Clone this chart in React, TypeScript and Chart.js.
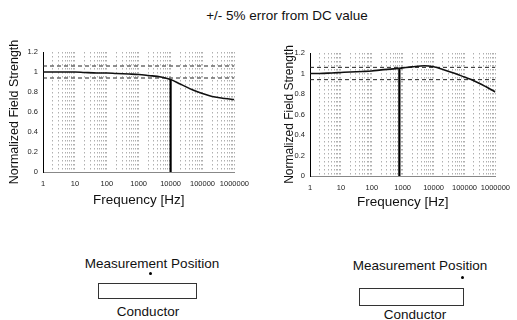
import React, { useEffect, useRef } from 'react';
import { Chart, registerables } from 'chart.js';

Chart.register(...registerables);

// ---- data ----
const frequencies = [1, 2, 5, 10, 20, 50, 100, 200, 500, 1000, 2000, 5000, 10000, 20000, 50000, 100000, 200000, 500000, 1000000];
const leftValues = [1.0, 1.0, 1.0, 1.0, 0.995, 0.99, 0.99, 0.985, 0.98, 0.975, 0.965, 0.95, 0.925, 0.88, 0.82, 0.785, 0.755, 0.735, 0.725];
const rightValues = [1.0, 1.0, 1.005, 1.01, 1.015, 1.02, 1.025, 1.035, 1.045, 1.055, 1.065, 1.075, 1.065, 1.04, 1.0, 0.965, 0.93, 0.87, 0.82];
const xTickLabels = ['1', '10', '100', '1000', '10000', '100000', '1000000'];
const yTickLabels = ['0', '0.2', '0.4', '0.6', '0.8', '1', '1.2'];
const errorBand = [0.94, 1.06];
const leftCutoff = [10000, 0.925];
const rightCutoff = [780, 1.055];

const FONT = '"Liberation Sans", Arial, Helvetica, sans-serif';

const decades = xTickLabels.map((l) => Number(l));
const gridValues: number[] = [];
decades.forEach((d, i) => {
  if (i === decades.length - 1) {
    gridValues.push(d);
  } else {
    for (let m = 1; m <= 9; m++) gridValues.push(d * m);
  }
});

type Layout = {
  left: number; top: number; width: number; height: number;
  padding: { left: number; right: number; top: number; bottom: number };
  yWidth: number; xHeight: number; yTitleSize: number;
};

function FieldChart({ values, cutoff, layout }: { values: number[]; cutoff: number[]; layout: Layout }) {
  const ref = useRef<HTMLCanvasElement>(null);
  useEffect(() => {
    if (!ref.current) return;
    const fMin = frequencies[0];
    const fMax = frequencies[frequencies.length - 1];
    const chart = new Chart(ref.current, {
      type: 'line',
      data: {
        datasets: [
          {
            data: frequencies.map((f, i) => ({ x: f, y: values[i] })),
            borderColor: '#111',
            borderWidth: 1.6,
            pointRadius: 0,
            cubicInterpolationMode: 'monotone',
          },
          {
            data: [{ x: fMin, y: errorBand[1] }, { x: fMax, y: errorBand[1] }],
            borderColor: '#222',
            borderWidth: 1,
            borderDash: [4, 3],
            pointRadius: 0,
          },
          {
            data: [{ x: fMin, y: errorBand[0] }, { x: fMax, y: errorBand[0] }],
            borderColor: '#222',
            borderWidth: 1,
            borderDash: [4, 3],
            pointRadius: 0,
          },
          {
            data: [{ x: cutoff[0], y: 0 }, { x: cutoff[0], y: cutoff[1] }],
            borderColor: '#000',
            borderWidth: 2.2,
            pointRadius: 0,
          },
        ],
      },
      options: {
        responsive: false,
        animation: false,
        layout: { padding: layout.padding },
        plugins: { legend: { display: false }, tooltip: { enabled: false } },
        scales: {
          x: {
            type: 'logarithmic',
            min: fMin,
            max: fMax,
            afterBuildTicks: (s: any) => {
              s.ticks = gridValues.map((v) => ({ value: v }));
            },
            afterFit: (s: any) => {
              s.height = layout.xHeight;
            },
            grid: { color: '#b0b0b0', lineWidth: 1, drawTicks: false },
            border: { display: true, color: '#888', dash: [1.5, 2.5] },
            ticks: {
              autoSkip: false,
              maxRotation: 0,
              minRotation: 0,
              padding: 7,
              color: '#222',
              font: { size: 7.5, family: FONT },
              callback: (v: any) => {
                const lbl = xTickLabels.find((l) => Number(l) === Number(v));
                return lbl ?? '';
              },
            },
            title: {
              display: true,
              text: 'Frequency [Hz]',
              color: '#111',
              font: { size: 13.5, family: FONT },
              padding: 0,
            },
          },
          y: {
            min: 0,
            max: 1.2,
            afterBuildTicks: (s: any) => {
              s.ticks = yTickLabels.map((l) => ({ value: Number(l) }));
            },
            afterFit: (s: any) => {
              s.width = layout.yWidth;
            },
            grid: { display: false, drawTicks: false },
            border: { display: true, color: '#000', width: 1 },
            ticks: {
              padding: 5,
              color: '#222',
              font: { size: 7.5, family: FONT },
              callback: (v: any) => {
                const lbl = yTickLabels.find((l) => Math.abs(Number(l) - Number(v)) < 1e-9);
                return lbl ?? '';
              },
            },
            title: {
              display: true,
              text: 'Normalized Field Strength',
              color: '#111',
              font: { size: layout.yTitleSize, family: FONT },
              padding: 0,
            },
          },
        },
      },
    } as any);
    return () => chart.destroy();
  }, [values, cutoff, layout]);
  return (
    <canvas
      ref={ref}
      width={layout.width}
      height={layout.height}
      style={{ position: 'absolute', left: layout.left, top: layout.top, width: layout.width, height: layout.height }}
    />
  );
}

const leftLayout: Layout = {
  left: 0, top: 40, width: 256, height: 170,
  padding: { left: 7, right: 19, top: 12, bottom: 2 },
  yWidth: 36, xHeight: 36, yTitleSize: 12.5,
};
const rightLayout: Layout = {
  left: 262, top: 40, width: 255, height: 172,
  padding: { left: 20, right: 14, top: 13, bottom: 2 },
  yWidth: 28, xHeight: 34, yTitleSize: 12,
};

const textStyle = (left: number, width: number, top: number, size: number): React.CSSProperties => ({
  position: 'absolute', left, width, top, height: 16, lineHeight: '16px', textAlign: 'center',
  fontFamily: FONT, fontSize: size, color: '#111', whiteSpace: 'nowrap',
});

export default function App() {
  return (
    <div style={{ position: 'fixed', left: 0, top: 0, width: 517, height: 320, background: '#fff', overflow: 'hidden' }}>
      <div style={textStyle(187, 200, 8, 13.5)}>+/- 5% error from DC value</div>
      <FieldChart values={leftValues} cutoff={leftCutoff} layout={leftLayout} />
      <FieldChart values={rightValues} cutoff={rightCutoff} layout={rightLayout} />

      <div style={textStyle(72, 160, 256, 13.5)}>Measurement Position</div>
      <div style={{ position: 'absolute', left: 149, top: 272, width: 3, height: 3, borderRadius: 2, background: '#000' }} />
      <div style={{ position: 'absolute', left: 98, top: 283, width: 99, height: 16, border: '1px solid #333', boxSizing: 'border-box' }} />
      <div style={textStyle(98, 100, 304, 13.5)}>Conductor</div>

      <div style={textStyle(340, 160, 258, 13.5)}>Measurement Position</div>
      <div style={{ position: 'absolute', left: 461, top: 276, width: 3, height: 3, borderRadius: 2, background: '#000' }} />
      <div style={{ position: 'absolute', left: 359, top: 288, width: 105, height: 18, border: '1px solid #333', boxSizing: 'border-box' }} />
      <div style={textStyle(365, 100, 307, 13.5)}>Conductor</div>
    </div>
  );
}
